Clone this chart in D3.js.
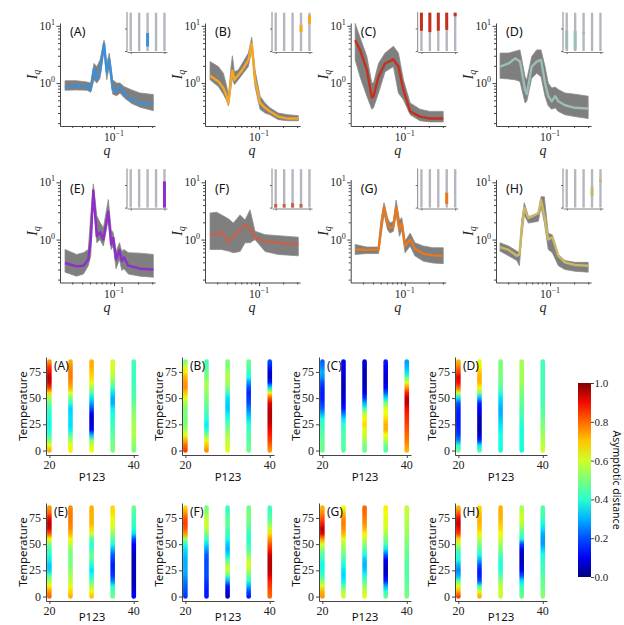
<!DOCTYPE html>
<html><head><meta charset="utf-8">
<script src="https://cdn.jsdelivr.net/npm/d3@7"></script>
<style>body{margin:0;background:#fff}svg{display:block}</style>
</head><body>
<svg id="c" width="624" height="625"></svg>
<script>
// ---------------- DATA ----------------
const panelLabels = ["(A)","(B)","(C)","(D)","(E)","(F)","(G)","(H)"];
const meanColors = ["#3d8fd8","#f5a623","#c5301c","#9dbdb8","#8c2fcc","#c4624a","#e8781e","#c9b765"];

const qA  = [.0244,.034,.046,.051,.0562,.0609,.0668,.075,.081,.0873,.0963,.108,.119,.133,.166,.211,.31];
const mA  = [.82,.90,.86,.75,1.80,1.21,1.57,4.93,1.57,2.54,.77,.72,.85,.67,.51,.45,.44];
const loA = [.75,.76,.75,.69,1.14,1.0,1.21,3.8,1.14,1.94,.64,.60,.67,.56,.44,.38,.33];
const hiA = [1.1,1.1,1.04,1.0,2.2,1.94,2.54,5.6,2.2,3.34,1.14,1.0,1.0,.87,.76,.67,.63];

const qB  = [.0244,.031,.0358,.0395,.0414,.0447,.0464,.0492,.0551,.0636,.0736,.081,.0891,.103,.119,.137,.174,.23,.31];
const mB  = [1.34,1.07,.82,.59,.44,1.14,1.66,1.14,1.38,1.80,2.54,4.93,1.14,.45,.37,.32,.26,.24,.24];
const loB = [1.14,.87,.64,.49,.40,.87,1.21,.94,1.14,1.49,1.94,3.8,.87,.35,.30,.28,.23,.22,.22];
const hiB = [2.38,1.94,1.49,.87,.59,1.94,3.0,1.57,1.7,2.38,3.34,6.3,1.7,.59,.45,.37,.30,.28,.27];

const qC  = [.024,.0276,.0336,.0388,.0407,.047,.0567,.0722,.0834,.0964,.117,.155,.206,.303];
const mC  = [5.6,3.8,1.7,.56,.59,1.29,2.2,2.6,1.94,.76,.32,.26,.24,.24];
const loC = [2.54,1.29,.59,.35,.37,.67,1.57,1.94,.67,.51,.28,.22,.21,.21];
const hiC = [11,6.3,2.9,1.0,1.0,2.2,3.34,4.4,3.34,1.14,.45,.35,.32,.32];

const qD  = [.0237,.0303,.0366,.0421,.0487,.0512,.059,.0682,.0772,.0866,.095,.105,.116,.127,.154,.205,.30];
const mD  = [1.94,2.2,2.7,2.38,.77,.64,1.94,2.38,2.54,1.0,.59,.48,.59,.48,.41,.37,.36];
const loD = [1.21,1.18,1.14,1.07,.45,.48,1.21,1.49,1.29,.59,.40,.35,.37,.32,.28,.26,.24];
const hiD = [3.34,3.34,3.6,3.8,1.29,1.14,2.9,3.8,3.8,1.94,1.0,.82,.85,.77,.67,.64,.59];

const qE  = [.0244,.034,.0414,.0477,.0512,.0551,.0609,.0668,.0736,.0848,.092,.098,.106,.117,.125,.133,.151,.211,.31];
const mE  = [.39,.34,.35,.45,1.0,7.2,1.14,1.34,1.0,3.06,.82,1.07,.45,.66,.42,.49,.35,.31,.30];
const loE = [.27,.23,.25,.35,.52,4.9,.88,1.0,.77,2.3,.67,.77,.31,.45,.29,.31,.25,.23,.22];
const hiE = [.67,.55,.59,.67,2.7,9.4,2.6,2.0,1.6,5.0,1.5,1.3,.62,.88,.62,.67,.59,.58,.55];

const qF  = [.0244,.0295,.034,.0414,.0477,.058,.0668,.0772,.0891,.119,.174,.31];
const mF  = [1.22,1.22,1.39,.90,1.14,1.49,1.76,1.6,1.07,.94,.88,.82];
const loF = [.67,.67,.67,.63,.59,.62,.88,.88,1.0,.62,.55,.52];
const hiF = [2.9,3.0,2.7,2.3,1.94,2.7,2.2,3.3,1.4,1.22,1.17,1.1];

const qG  = [.024,.0336,.047,.0506,.0551,.0609,.0654,.0722,.078,.086,.092,.101,.117,.134,.171,.226,.303];
const mG  = [.67,.66,.67,1.69,3.7,1.94,1.6,1.69,3.7,1.49,1.94,.77,1.0,.69,.57,.53,.52];
const loG = [.55,.57,.57,1.14,2.8,1.49,1.3,1.4,2.8,1.14,1.49,.59,.77,.52,.42,.39,.38];
const hiG = [.82,.74,.74,2.2,4.4,2.4,1.94,2.1,4.9,2.2,2.4,.94,1.3,.88,.77,.72,.72];

const qH  = [.0237,.0303,.0384,.0414,.0444,.0477,.0537,.0618,.0715,.0772,.0848,.095,.107,.127,.154,.205,.30];
const mH  = [.74,.66,.52,.55,1.69,3.6,2.38,2.6,2.9,4.9,2.6,1.0,1.1,.52,.40,.36,.35];
const loH = [.63,.52,.43,.35,1.14,2.7,1.94,2.0,2.1,3.7,2.0,.67,.59,.35,.30,.28,.27];
const hiH = [.88,.77,.63,.59,2.2,4.4,2.5,2.7,2.8,5.6,5.6,1.3,1.2,.55,.43,.40,.40];

// inset segments: P123 value, temperature range of the cluster
const segA = [[30,10,40]];
const segB = [[35,42,58],[40,60,80]];
const segC = [[20,45,85],[25,42,85],[30,45,85],[35,47,85],[40,77,85]];
const segD = [[20,5,45],[25,3,45],[30,38,42]];
const segE = [[40,0,58]];
const segF = [[20,0,8],[25,0,8],[30,0,10],[35,0,8]];
const segG = [[35,8,33]];
const segH = [[35,25,45],[40,57,62]];

const p123 = [20,25,30,35,40];
const temps = [0,5,10,15,20,25,30,35,40,45,50,55,60,65,70,75,80,85];
const yTicksLog = [1,10];
const yMinorLog = [.2,.3,.4,.5,.6,.7,.8,.9,2,3,4,5,6,7,8,9];
const xTicksLog = [0.1];
const xMinorLog = [.03,.04,.05,.06,.07,.08,.09,.2,.3];
const hmYTicks = [0,25,50,75];
const hmXTicks = [20,40];
const cbTicks = [0,.2,.4,.6,.8,1.0];

// asymptotic distance along temperature for each P123 column
const hmA = [
 [.72,.62,.5,.42,.38,.37,.38,.4,.42,.47,.55,.68,.85,.93,.95,.9,.85,.75],
 [.66,.62,.55,.45,.36,.34,.35,.34,.33,.4,.5,.62,.72,.76,.78,.78,.76,.72],
 [.64,.6,.5,.3,.12,.08,.06,.1,.2,.28,.35,.45,.55,.62,.68,.7,.72,.72],
 [.5,.5,.48,.46,.44,.42,.4,.38,.36,.3,.3,.35,.42,.5,.56,.6,.6,.6],
 [.5,.52,.54,.56,.56,.55,.54,.52,.5,.47,.45,.44,.43,.42,.42,.43,.43,.43]];
const hmB = [
 [.85,.8,.72,.62,.55,.5,.5,.5,.5,.55,.62,.7,.76,.75,.72,.66,.6,.5],
 [.76,.7,.62,.5,.38,.36,.4,.42,.45,.48,.5,.52,.55,.55,.5,.48,.45,.43],
 [.62,.6,.58,.55,.5,.45,.4,.36,.32,.33,.35,.42,.5,.55,.56,.55,.5,.5],
 [.48,.47,.45,.44,.42,.4,.35,.3,.25,.2,.18,.16,.2,.28,.38,.42,.45,.48],
 [.75,.8,.85,.88,.9,.93,.95,.95,.95,.92,.82,.65,.35,.15,.05,.08,.15,.2]];
const hmC = [
 [.48,.48,.47,.45,.44,.42,.38,.3,.22,.18,.15,.15,.16,.2,.27,.3,.25,.22],
 [.45,.45,.45,.44,.42,.4,.35,.25,.15,.1,.08,.06,.05,.05,.06,.08,.1,.1],
 [.48,.5,.55,.6,.62,.68,.65,.58,.42,.3,.18,.1,.06,.05,.05,.05,.06,.08],
 [.45,.48,.58,.64,.72,.72,.68,.64,.62,.5,.35,.22,.12,.08,.07,.09,.12,.15],
 [.72,.75,.78,.8,.82,.84,.86,.88,.9,.94,.95,.88,.75,.62,.45,.35,.3,.28]];
const hmD = [
 [.48,.4,.25,.18,.16,.15,.15,.15,.16,.2,.35,.6,.8,.9,.92,.85,.78,.72],
 [.45,.35,.15,.06,.04,.04,.05,.08,.12,.15,.3,.5,.65,.72,.72,.7,.65,.62],
 [.38,.38,.38,.38,.36,.35,.32,.3,.3,.32,.35,.4,.45,.48,.5,.5,.5,.5],
 [.38,.38,.38,.38,.38,.4,.42,.44,.45,.47,.48,.5,.52,.54,.55,.55,.55,.55],
 [.6,.58,.56,.54,.52,.5,.48,.46,.45,.44,.43,.43,.43,.43,.43,.43,.43,.43]];
const hmE = [
 [.8,.75,.65,.55,.45,.33,.32,.36,.4,.42,.5,.65,.82,.92,.95,.9,.8,.75],
 [.72,.68,.62,.58,.55,.52,.5,.5,.5,.52,.58,.65,.72,.76,.78,.78,.78,.76],
 [.7,.65,.55,.45,.38,.35,.38,.45,.48,.42,.4,.45,.6,.68,.72,.72,.72,.72],
 [.48,.45,.38,.25,.18,.16,.15,.18,.22,.3,.4,.45,.52,.6,.62,.65,.68,.68],
 [.12,.08,.06,.05,.05,.05,.05,.05,.06,.08,.12,.2,.35,.4,.42,.43,.45,.48]];
const hmF = [
 [.18,.2,.22,.25,.28,.3,.3,.3,.32,.35,.4,.55,.75,.82,.85,.82,.75,.68],
 [.15,.15,.16,.18,.2,.2,.2,.2,.22,.28,.35,.42,.5,.58,.6,.58,.52,.5],
 [.05,.08,.15,.3,.45,.6,.55,.45,.35,.3,.33,.38,.42,.45,.48,.45,.43,.43],
 [.15,.2,.3,.4,.48,.55,.62,.58,.5,.45,.42,.4,.42,.45,.48,.5,.5,.48],
 [.8,.82,.85,.88,.92,.95,.95,.95,.93,.88,.82,.75,.68,.58,.5,.45,.43,.43]];
const hmG = [
 [.75,.72,.62,.5,.42,.38,.37,.4,.45,.52,.62,.75,.92,.95,.88,.82,.76,.72],
 [.6,.55,.45,.36,.34,.35,.38,.42,.48,.52,.56,.62,.72,.76,.78,.76,.7,.64],
 [.62,.58,.52,.45,.38,.33,.3,.32,.38,.45,.52,.6,.65,.72,.76,.78,.8,.8],
 [.48,.4,.3,.15,.08,.05,.06,.12,.22,.35,.45,.5,.55,.6,.62,.62,.64,.66],
 [.5,.48,.47,.46,.45,.45,.45,.46,.47,.48,.5,.52,.54,.55,.56,.57,.58,.58]];
const hmH = [
 [.85,.72,.62,.45,.3,.25,.3,.38,.4,.45,.58,.68,.85,.9,.95,.9,.8,.72],
 [.72,.62,.4,.2,.15,.15,.2,.3,.38,.45,.5,.58,.65,.7,.72,.72,.7,.68],
 [.58,.6,.58,.52,.45,.4,.38,.4,.45,.5,.55,.6,.64,.68,.7,.72,.72,.72],
 [.48,.45,.42,.35,.2,.1,.06,.05,.05,.1,.2,.38,.45,.5,.58,.6,.58,.55],
 [.52,.5,.48,.47,.45,.43,.42,.4,.38,.33,.28,.28,.3,.35,.38,.42,.44,.45]];

// ---------------- DRAW ----------------
const svg = d3.select("#c");
const defs = svg.append("defs");
const SERIF = "'Liberation Serif','DejaVu Serif',serif";
const SANS = "'Noto Sans','DejaVu Sans',sans-serif";
const AX = "#444";

function jet(v){
  const r = d3.scaleLinear().domain([0,.35,.66,.89,1]).range([0,0,1,1,.5]).clamp(true)(v);
  const g = d3.scaleLinear().domain([0,.125,.375,.64,.91,1]).range([0,0,1,1,0,0]).clamp(true)(v);
  const b = d3.scaleLinear().domain([0,.11,.34,.65,1]).range([.5,1,1,0,0]).clamp(true)(v);
  return d3.rgb(r*255,g*255,b*255).formatHex();
}
function styleAxis(sel){
  sel.selectAll(".domain").attr("stroke",AX).attr("stroke-width",1);
  sel.selectAll(".tick line").attr("stroke",AX);
  sel.selectAll(".tick text").remove();
}

const W = 95, Hh = 103;
const xq = d3.scaleLog().domain([0.0211,0.3255]).range([0,W]);
const yI = d3.scaleLog().domain([0.178,11.2]).range([Hh,0]);
const topAxisX = [60,205,350.7,496];
const rowTop = [23,179.5];

const lines = [
 [qA,mA,loA,hiA,segA],[qB,mB,loB,hiB,segB],[qC,mC,loC,hiC,segC],[qD,mD,loD,hiD,segD],
 [qE,mE,loE,hiE,segE],[qF,mF,loF,hiF,segF],[qG,mG,loG,hiG,segG],[qH,mH,loH,hiH,segH]];

const ix = d3.scaleLinear().domain([17.8,41.5]).range([0,40]);
const iy = d3.scaleLinear().domain([-2,85]).range([40,0.7]);

lines.forEach((L,i)=>{
  const [q,m,lo,hi,seg] = L;
  const c=i%4, r=Math.floor(i/4);
  const g = svg.append("g").attr("transform",`translate(${topAxisX[c]},${rowTop[r]})`);
  const pts = q.map((v,k)=>({q:v,m:m[k],lo:lo[k],hi:hi[k]}));
  g.append("path").datum(pts)
    .attr("d",d3.area().x(d=>xq(d.q)).y0(d=>yI(d.lo)).y1(d=>yI(d.hi)))
    .attr("fill","#7f7f7f").attr("stroke","#8c8c8c").attr("stroke-width",0.8);
  g.append("path").datum(pts)
    .attr("d",d3.line().x(d=>xq(d.q)).y(d=>yI(d.m)))
    .attr("fill","none").attr("stroke",meanColors[i]).attr("stroke-width",2.4).attr("stroke-linejoin","round");
  // axes
  const ya = g.append("g").call(d3.axisLeft(yI).tickValues(yTicksLog).tickSize(3.5).tickSizeOuter(0));
  styleAxis(ya);
  const ym = g.append("g").call(d3.axisLeft(yI).tickValues(yMinorLog).tickSize(2).tickSizeOuter(0));
  styleAxis(ym); ym.select(".domain").remove();
  const xa = g.append("g").attr("transform",`translate(0,${Hh})`).call(d3.axisBottom(xq).tickValues(xTicksLog).tickSize(3.5).tickSizeOuter(0));
  styleAxis(xa);
  const xm = g.append("g").attr("transform",`translate(0,${Hh})`).call(d3.axisBottom(xq).tickValues(xMinorLog).tickSize(2).tickSizeOuter(0));
  styleAxis(xm); xm.select(".domain").remove();
  // tick labels
  yTicksLog.forEach(v=>{
    const t = g.append("text").attr("x",-5).attr("y",yI(v)+4).attr("text-anchor","end")
      .attr("font-family",SERIF).attr("font-size",11.5).attr("fill","#222").text("10");
    t.append("tspan").attr("dy",-5).attr("font-size",8).text(String(Math.round(Math.log10(v))));
  });
  xTicksLog.forEach(v=>{
    const t = g.append("text").attr("x",xq(v)).attr("y",Hh+15).attr("text-anchor","middle")
      .attr("font-family",SERIF).attr("font-size",11.5).attr("fill","#222").text("10");
    t.append("tspan").attr("dy",-5).attr("font-size",8).text("\u22121");
  });
  // axis labels
  const yl = g.append("text").attr("transform",`translate(-23,${Hh/2}) rotate(-90)`).attr("text-anchor","middle")
    .attr("font-family",SERIF).attr("font-style","italic").attr("font-size",14).attr("fill","#222").text("I");
  yl.append("tspan").attr("dy",3).attr("font-size",10).text("q");
  g.append("text").attr("x",47).attr("y",Hh+29).attr("text-anchor","middle")
    .attr("font-family",SERIF).attr("font-style","italic").attr("font-size",14).attr("fill","#222").text("q");
  g.append("text").attr("x",10).attr("y",13).attr("font-family",SANS).attr("font-size",12.5).attr("fill","#111").text(panelLabels[i]);
  // inset
  const ig = g.append("g").attr("transform",`translate(67,-11)`);
  ig.selectAll("line.gl").data(p123).join("line").attr("class","gl")
    .attr("x1",d=>ix(d)).attr("x2",d=>ix(d)).attr("y1",iy(0)).attr("y2",iy(85))
    .attr("stroke","#b6b6c0").attr("stroke-width",2.4);
  ig.selectAll("line.sg").data(seg).join("line").attr("class","sg")
    .attr("x1",d=>ix(d[0])).attr("x2",d=>ix(d[0])).attr("y1",d=>iy(d[1])).attr("y2",d=>iy(d[2]))
    .attr("stroke",meanColors[i]).attr("stroke-width",3);
  const il = ig.append("g").call(d3.axisLeft(iy).tickValues([0,50]).tickSize(2).tickSizeOuter(0));
  styleAxis(il); il.select(".domain").attr("d",`M0,0V40`);
  const ib = ig.append("g").attr("transform","translate(0,40)").call(d3.axisBottom(ix).tickValues([20,40]).tickSize(2).tickSizeOuter(0));
  styleAxis(ib);
  ig.selectAll(".domain").attr("stroke","#666").attr("stroke-width",0.8);
  ig.selectAll(".tick line").attr("stroke","#666");
});

// ---------- heatmap panels ----------
const hms = [hmA,hmB,hmC,hmD,hmE,hmF,hmG,hmH];
const hmAxisX = [46,182,319,455];
const hmTop = [357,503];
const HW = 92, HH = 98;
const hx = d3.scaleLinear().domain([19.2,41]).range([0,HW]);
const hy = d3.scaleLinear().domain([-4.25,89.25]).range([HH,0]);
const rad = 2.3;

hms.forEach((hm,i)=>{
  const c=i%4, r=Math.floor(i/4);
  const g = svg.append("g").attr("transform",`translate(${hmAxisX[c]},${hmTop[r]})`);
  hm.forEach((vals,j)=>{
    const id = `hg${i}_${j}`;
    const gr = defs.append("linearGradient").attr("id",id).attr("gradientUnits","userSpaceOnUse")
      .attr("x1",0).attr("x2",0).attr("y1",hy(temps[0])).attr("y2",hy(temps[temps.length-1]));
    vals.forEach((v,k)=>gr.append("stop").attr("offset",(temps[k]-temps[0])/(temps[temps.length-1]-temps[0])).attr("stop-color",jet(v)));
    g.append("rect").attr("x",hx(p123[j])-rad).attr("width",2*rad)
      .attr("y",hy(temps[temps.length-1])-rad).attr("height",hy(temps[0])-hy(temps[temps.length-1])+2*rad)
      .attr("rx",rad).attr("fill",`url(#${id})`);
  });
  const ya = g.append("g").call(d3.axisLeft(hy).tickValues(hmYTicks).tickSize(3).tickSizeOuter(0));
  styleAxis(ya);
  const xa = g.append("g").attr("transform",`translate(0,${HH})`).call(d3.axisBottom(hx).tickValues(hmXTicks).tickSize(3).tickSizeOuter(0));
  styleAxis(xa);
  hmYTicks.forEach(v=>g.append("text").attr("x",-5).attr("y",hy(v)+4).attr("text-anchor","end")
    .attr("font-family",SERIF).attr("font-size",12).attr("fill","#222").text(v));
  hmXTicks.forEach(v=>g.append("text").attr("x",hx(v)).attr("y",HH+14).attr("text-anchor","middle")
    .attr("font-family",SERIF).attr("font-size",12).attr("fill","#222").text(v));
  g.append("text").attr("transform",`translate(-19,${HH/2}) rotate(-90)`).attr("text-anchor","middle")
    .attr("font-family",SANS).attr("font-size",11.5).attr("fill","#111").text("Temperature");
  g.append("text").attr("x",HW/2).attr("y",r===0?HH+26:HH+19.5).attr("text-anchor","middle")
    .attr("font-family",SANS).attr("font-size",11.5).attr("fill","#111").text("P123");
  g.append("text").attr("x",8).attr("y",13).attr("font-family",SANS).attr("font-size",12).attr("fill","#111").text(panelLabels[i]);
});

// ---------- colorbar ----------
const cb = d3.scaleLinear().domain([0,1]).range([577,383]);
const cbStops = [0,.1,.2,.3,.4,.5,.6,.7,.8,.9,1];
const cbg = defs.append("linearGradient").attr("id","cbg").attr("x1",0).attr("x2",0).attr("y1",1).attr("y2",0);
cbStops.forEach(v=>cbg.append("stop").attr("offset",v).attr("stop-color",jet(v)));
svg.append("rect").attr("x",578).attr("y",cb(1)).attr("width",13).attr("height",cb(0)-cb(1)).attr("fill","url(#cbg)");
const cba = svg.append("g").attr("transform","translate(591,0)").call(d3.axisRight(cb).tickValues(cbTicks).tickSize(3).tickSizeOuter(0));
styleAxis(cba); cba.select(".domain").remove();
cbTicks.forEach(v=>svg.append("text").attr("x",594.5).attr("y",cb(v)+4)
  .attr("font-family",SERIF).attr("font-size",11).attr("fill","#222").text(d3.format(".1f")(v)));
svg.append("text").attr("transform","translate(612.5,480) rotate(90)").attr("text-anchor","middle")
  .attr("font-family",SANS).attr("font-size",10.5).attr("fill","#111").text("Asymptotic distance");
</script>
</body></html>
